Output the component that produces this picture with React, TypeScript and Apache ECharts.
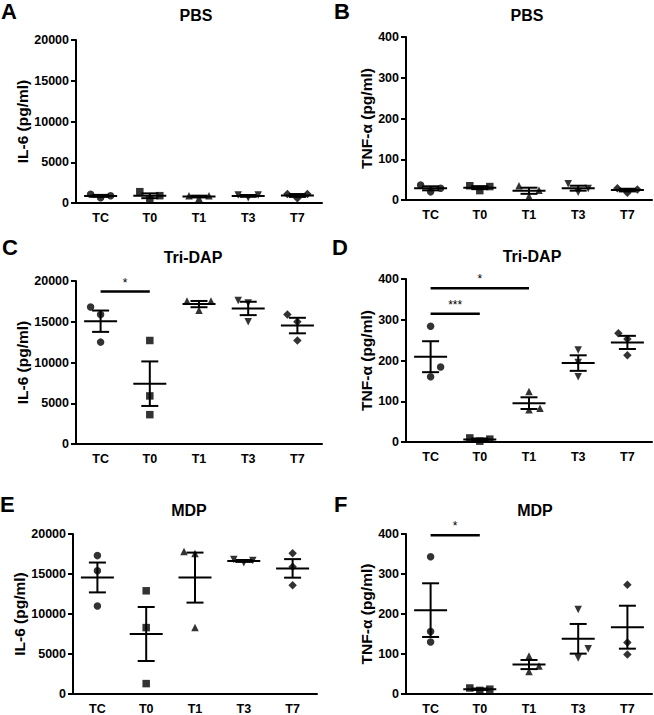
import React, { useEffect, useRef } from "react";
import * as echarts from "echarts";

const categories = ["TC", "T0", "T1", "T3", "T7"];

// three replicate values per category
const pbsIL6 = [[1070, 650, 900], [1390, 370, 900], [900, 570, 900], [980, 650, 980], [1100, 570, 1100]];
const pbsTNF = [[37, 20, 29], [35, 23, 33], [35, 9, 24], [40, 19, 28], [29, 18, 26]];
const triIL6 = [[16800, 15900, 12500], [12700, 5900, 3600], [17550, 17550, 16400], [17600, 17300, 15000], [15900, 15000, 12700]];
const triTNF = [[284, 184, 160], [10, 2, 7], [124, 79, 83], [226, 195, 160], [267, 253, 213]];
const mdpIL6 = [[17300, 15400, 11000], [12900, 8300, 1300], [17800, 17550, 8300], [16800, 16400, 16700], [17600, 15900, 13600]];
const mdpTNF = [[343, 156, 130], [15, 9, 12], [95, 70, 56], [211, 113, 90], [273, 129, 99]];

// significance brackets: [fromIndex, toIndex, yValue, label]
const sigC: [number, number, number, string][] = [[0, 1, 18700, "*"]];
const sigD: [number, number, number, string][] = [[0, 2, 377, "*"], [0, 1, 315, "***"]];
const sigF: [number, number, number, string][] = [[0, 1, 397, "*"]];

const il6Ticks = { max: 20000, interval: 5000 };
const tnfTicks = { max: 400, interval: 100 };

// horizontal spread of overlapping points (px), style only
const spreadA = [[-10, 0, 10], [-10, 0, 10], [-10, 0, 10], [-10, 0, 10], [-10, 0, 10]];
const spreadB = [[-10, 0, 10], [-10, 0, 10], [-10, 0, 10], [-10, 0, 10], [-10, 0, 10]];
const spreadC = [[-10, 0, 0], [0, 0, 0], [-12, 12, 0], [-10, 0, 0], [-10, 0, 0]];
const spreadD = [[0, 10, 0], [-10, 0, 10], [0, 0, 11], [0, 0, 0], [-9, 0, 0]];
const spreadE = [[0, 0, 0], [0, 0, 0], [-11, 0, 0], [-10, 0, 9], [0, 0, 0]];
const spreadF = [[0, 0, 0], [-10, 0, 10], [0, 10, 0], [0, 10, 0], [0, 0, 0]];

const FONT = '"Liberation Sans", Arial, Helvetica, sans-serif';
const symbols = ["circle", "rect", "triangle", "triangle", "diamond"];
const rotations = [0, 0, 0, 180, 0];

function meanSem(v: number[]) {
  const n = v.length;
  const m = v.reduce((a, b) => a + b, 0) / n;
  const sd = Math.sqrt(v.reduce((a, b) => a + (b - m) * (b - m), 0) / (n - 1));
  return [m, sd / Math.sqrt(n)];
}

const none: [number, number, number, string][] = [];
const panels = [
  { letter: "A", title: "PBS", data: pbsIL6, spread: spreadA, ticks: il6Ticks, yName: "IL-6 (pg/ml)", nameGap: 34, grid: { left: 76, top: 40, width: 246, height: 163 }, sig: none, lx: 1, ly: 0, tx: 196, ty: 15 },
  { letter: "B", title: "PBS", data: pbsTNF, spread: spreadB, ticks: tnfTicks, yName: "TNF-α (pg/ml)", nameGap: 29, grid: { left: 406, top: 37, width: 246, height: 163 }, sig: none, lx: 334, ly: 0, tx: 527, ty: 15 },
  { letter: "C", title: "Tri-DAP", data: triIL6, spread: spreadC, ticks: il6Ticks, yName: "IL-6 (pg/ml)", nameGap: 34, grid: { left: 76, top: 281, width: 246, height: 163 }, sig: sigC, lx: 2, ly: 236, tx: 193, ty: 257 },
  { letter: "D", title: "Tri-DAP", data: triTNF, spread: spreadD, ticks: tnfTicks, yName: "TNF-α (pg/ml)", nameGap: 29, grid: { left: 406, top: 279, width: 246, height: 163 }, sig: sigD, lx: 332, ly: 236, tx: 532, ty: 256 },
  { letter: "E", title: "MDP", data: mdpIL6, spread: spreadE, ticks: il6Ticks, yName: "IL-6 (pg/ml)", nameGap: 33, grid: { left: 73, top: 534, width: 244, height: 164 }, sig: none, lx: 0, ly: 493, tx: 189, ty: 510 },
  { letter: "F", title: "MDP", data: mdpTNF, spread: spreadF, ticks: tnfTicks, yName: "TNF-α (pg/ml)", nameGap: 29, grid: { left: 406, top: 534, width: 246, height: 164 }, sig: sigF, lx: 334, ly: 493, tx: 535, ty: 510 },
];

export default function App() {
  const ref = useRef<HTMLDivElement>(null);
  useEffect(() => {
    if (!ref.current) return;
    const chart = echarts.init(ref.current, undefined, { renderer: "svg" });

    const grids: any[] = [];
    const xAxes: any[] = [];
    const yAxes: any[] = [];
    const series: any[] = [];
    const graphics: any[] = [];

    panels.forEach((p, pi) => {
      grids.push({ ...p.grid, containLabel: false });
      xAxes.push({
        type: "category",
        gridIndex: pi,
        data: categories,
        boundaryGap: true,
        axisLine: { lineStyle: { color: "#000", width: 2 } },
        axisTick: { alignWithLabel: true, length: 4, lineStyle: { color: "#000", width: 2 } },
        axisLabel: { color: "#000", fontFamily: FONT, fontWeight: "bold", fontSize: 12.5, margin: 8 },
        splitLine: { show: false },
      });
      yAxes.push({
        type: "value",
        gridIndex: pi,
        min: 0,
        max: p.ticks.max,
        interval: p.ticks.interval,
        name: p.yName,
        nameLocation: "middle",
        nameRotate: 90,
        nameGap: p.nameGap,
        nameTextStyle: { color: "#000", fontFamily: FONT, fontWeight: "bold", fontSize: 15.5 },
        axisLine: { show: true, lineStyle: { color: "#000", width: 2 } },
        axisTick: { show: true, length: 5, lineStyle: { color: "#000", width: 2 } },
        axisLabel: {
          color: "#000",
          fontFamily: FONT,
          fontWeight: "bold",
          fontSize: 12.5,
          margin: 7,
          formatter: (v: number) => String(v),
        },
        splitLine: { show: false },
      });

      // points
      p.data.forEach((vals, ci) => {
        series.push({
          type: "scatter",
          xAxisIndex: pi,
          yAxisIndex: pi,
          symbol: symbols[ci],
          symbolRotate: rotations[ci],
          symbolSize: ci === 4 ? 8.5 : 7.5,
          itemStyle: { color: "#000" },
          z: 3,
          data: vals.map((v, k) => ({ value: [ci, v], symbolOffset: [p.spread[ci][k], 0] })),
        });
      });

      // mean ± SEM
      const stats = p.data.map((vals, ci) => {
        const [m, s] = meanSem(vals);
        return [ci, m, m - s, m + s];
      });
      series.push({
        type: "custom",
        xAxisIndex: pi,
        yAxisIndex: pi,
        z: 4,
        itemStyle: { color: "#000" },
        encode: { x: 0, y: 1 },
        data: stats,
        renderItem: (params: any, api: any) => {
          const x = api.value(0);
          const pm = api.coord([x, api.value(1)]);
          const pl = api.coord([x, api.value(2)]);
          const ph = api.coord([x, api.value(3)]);
          const st = { stroke: "#000", lineWidth: 2 };
          return {
            type: "group",
            children: [
              { type: "line", shape: { x1: pm[0] - 16.5, y1: pm[1], x2: pm[0] + 16.5, y2: pm[1] }, style: st },
              { type: "line", shape: { x1: pl[0] - 8.5, y1: pl[1], x2: pl[0] + 8.5, y2: pl[1] }, style: st },
              { type: "line", shape: { x1: ph[0] - 8.5, y1: ph[1], x2: ph[0] + 8.5, y2: ph[1] }, style: st },
              { type: "line", shape: { x1: pl[0], y1: pl[1], x2: ph[0], y2: ph[1] }, style: st },
            ],
          };
        },
      });

      if (p.sig.length) {
        const sig = p.sig;
        series.push({
          type: "custom",
          xAxisIndex: pi,
          yAxisIndex: pi,
          z: 5,
          clip: false,
          itemStyle: { color: "#000" },
          encode: { x: 0, y: 2 },
          data: sig.map((s) => [s[0], s[1], s[2]]),
          renderItem: (params: any, api: any) => {
            const a = api.coord([api.value(0), api.value(2)]);
            const b = api.coord([api.value(1), api.value(2)]);
            const label = sig[params.dataIndex][3];
            return {
              type: "group",
              children: [
                { type: "line", shape: { x1: a[0], y1: a[1], x2: b[0], y2: b[1] }, style: { stroke: "#000", lineWidth: 2.5 } },
                {
                  type: "text",
                  x: (a[0] + b[0]) / 2,
                  y: a[1] - 3,
                  style: {
                    text: label,
                    fill: "#000",
                    font: `12px ${FONT}`,
                    align: "center",
                    verticalAlign: "bottom",
                    textAlign: "center",
                    textVerticalAlign: "bottom",
                  },
                },
              ],
            };
          },
        });
      }

      graphics.push({
        type: "text",
        left: p.lx,
        top: p.ly,
        style: { text: p.letter, fill: "#000", font: `bold 22px ${FONT}` },
      });
      graphics.push({
        type: "text",
        x: p.tx,
        y: p.ty,
        style: {
          text: p.title,
          fill: "#000",
          font: `bold 16px ${FONT}`,
          align: "center",
          verticalAlign: "middle",
          textAlign: "center",
          textVerticalAlign: "middle",
        },
      });
    });

    chart.setOption({
      animation: false,
      backgroundColor: "#fff",
      color: ["#000"],
      grid: grids,
      xAxis: xAxes,
      yAxis: yAxes,
      series,
      graphic: graphics,
    });
    return () => chart.dispose();
  }, []);

  return (
    <div
      ref={ref}
      style={{ position: "absolute", left: 0, top: 0, width: 654, height: 715, background: "#fff" }}
    />
  );
}
